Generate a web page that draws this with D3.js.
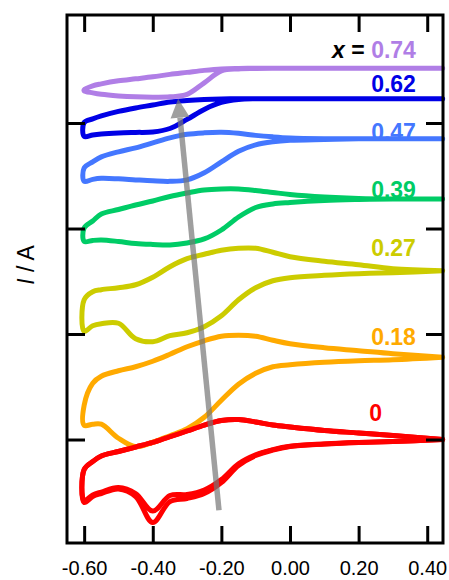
<!DOCTYPE html>
<meta charset="UTF-8">
<svg width="449" height="580"></svg>
<style>
body { margin: 0; }
svg { display: block; background: #fff; }
text { font-family: "Liberation Sans", Arial, sans-serif; }
.frame { fill: none; stroke: #000; stroke-width: 3px; }
.axis path { display: none; }
.axis line { stroke: #000; stroke-width: 3px; }
.axis text { font-size: 20px; fill: #000; }
.cv { fill: none; stroke-width: 5px; stroke-linejoin: round; stroke-linecap: round; }
.lbl { font-size: 23px; font-weight: bold; text-anchor: end; }
</style>
<script src="https://d3js.org/d3.v7.min.js"></script>
<script>
// potential grid (V) shared by every branch
var potential = [-0.60, -0.575, -0.55, -0.50, -0.45, -0.40, -0.35, -0.30, -0.25, -0.20, -0.15, -0.10, -0.05, 0.00, 0.10, 0.20, 0.30, 0.445];

var compositions = ["0", "0.18", "0.27", "0.39", "0.47", "0.62", "0.74"];
var colors = ["#ff0000", "#ffaa00", "#cccc00", "#00cc66", "#4477ff", "#0000e6", "#b07ee6"];
var offsets = [0, 7.8, 16.0, 22.8, 28.5, 32.3, 35.2];   // vertical shift, arb. units (10 per tick)

// currents (arb. units), relative to each curve's offset
var up00 = [-2.84, -2.09, -1.56, -1.14, -0.71, -0.28, 0.28, 0.81, 1.37, 1.80, 1.90, 1.66, 1.37, 1.18, 0.85, 0.62, 0.38, 0];
var lo00 = [-5.97, -5.40, -5.12, -4.69, -5.40, -7.87, -5.88, -5.59, -5.12, -4.08, -2.46, -1.52, -1.00, -0.66, -0.43, -0.28, -0.19, 0];
var lo00first = [-5.80, -5.25, -4.98, -4.55, -5.12, -6.78, -5.31, -5.21, -4.79, -3.80, -2.30, -1.45, -0.96, -0.64, -0.42, -0.28, -0.19, 0];
var up18 = [-4.55, -2.46, -1.80, -1.28, -0.90, -0.38, 0.28, 0.99, 1.56, 1.99, 2.09, 1.99, 1.61, 1.28, 0.90, 0.62, 0.33, 0];
var lo18 = [-6.45, -6.35, -6.35, -7.68, -8.48, -8.06, -7.44, -6.78, -5.69, -4.08, -2.56, -1.52, -0.90, -0.71, -0.47, -0.33, -0.24, 0];
var up27 = [-2.75, -1.99, -1.80, -1.61, -1.33, -0.62, 0.38, 1.14, 1.56, 1.94, 2.13, 2.13, 1.75, 1.33, 0.90, 0.57, 0.19, 0];
var lo27 = [-5.75, -5.21, -5.02, -4.98, -6.45, -6.73, -6.16, -5.88, -5.31, -4.27, -2.75, -1.61, -0.95, -0.66, -0.43, -0.28, -0.19, 0];
var up39 = [-2.75, -2.09, -1.42, -1.00, -0.57, -0.19, 0.24, 0.57, 0.85, 0.95, 0.95, 0.81, 0.62, 0.43, 0.19, 0.05, 0, 0];
var lo39 = [-4.03, -3.93, -3.89, -4.03, -4.22, -4.31, -4.36, -4.17, -3.79, -2.94, -1.71, -0.81, -0.47, -0.33, -0.14, -0.05, 0, 0];
var up47 = [-2.75, -2.18, -1.71, -1.23, -0.85, -0.38, 0.09, 0.43, 0.57, 0.62, 0.52, 0.33, 0.19, 0.09, 0.02, 0, 0, 0];
var lo47 = [-4.03, -3.84, -3.74, -3.79, -3.89, -3.98, -4.03, -3.89, -3.22, -2.18, -1.18, -0.57, -0.28, -0.14, -0.06, 0, 0, 0];
var up62 = [-2.25, -1.91, -1.63, -1.20, -0.87, -0.59, -0.30, -0.16, -0.07, -0.02, 0, 0, 0, 0, 0, 0, 0, 0];
var lo62 = [-3.57, -3.43, -3.34, -3.24, -3.19, -3.15, -2.82, -1.96, -1.01, -0.35, -0.07, 0, 0, 0, 0, 0, 0, 0];
var up74 = [-2.05, -1.68, -1.49, -1.20, -1.01, -0.82, -0.59, -0.40, -0.21, -0.07, -0.02, 0, 0, 0, 0, 0, 0, 0];
var lo74 = [-2.15, -2.34, -2.48, -2.63, -2.72, -2.75, -2.72, -2.48, -1.39, -0.26, -0.07, -0.03, 0, 0, 0, 0, 0, 0];

var xTicks = [-0.60, -0.40, -0.20, 0.00, 0.20, 0.40];
var yTicks = [0, 10, 20, 30];

// label anchor (E, I) for each composition
var labelE = [0.268, 0.367, 0.367, 0.367, 0.367, 0.367, 0.367];
var labelI = [1.75, 9.0, 17.35, 22.89, 28.39, 32.94, 36.16];
var arrowFrom = [-0.207, -6.7], arrowTo = [-0.326, 32.3];

var branches = [[up00, lo00], [up18, lo18], [up27, lo27], [up39, lo39], [up47, lo47], [up62, lo62], [up74, lo74]];

var svg = d3.select("svg");
var x = d3.scaleLinear().domain([-0.65, 0.446]).range([67, 443]);
var y = d3.scaleLinear().domain([-9.81, 40.24]).range([543, 15]);

var line = d3.line()
    .x(d => x(d[0]))
    .y(d => y(d[1]))
    .curve(d3.curveCatmullRom.alpha(0.5));

function loop(up, lo, off) {
    var pts = [];
    for (var i = lo.length - 1; i >= 0; i--) pts.push([potential[i], lo[i] + off]);
    for (var j = 0; j < up.length; j++) pts.push([potential[j], up[j] + off]);
    return pts;
}

var curves = svg.append("g");
branches.forEach((b, i) => {
    curves.append("path").attr("class", "cv")
        .attr("d", line(loop(b[0], b[1], offsets[i])))
        .style("stroke", colors[i]);
});
// first cycle of x = 0 sits a bit higher through the reduction peak
curves.append("path").attr("class", "cv")
    .attr("d", line(loop(up00, lo00first, offsets[0])))
    .style("stroke", colors[0]);

// grey arrow
var ax0 = x(arrowFrom[0]), ay0 = y(arrowFrom[1]), ax1 = x(arrowTo[0]), ay1 = y(arrowTo[1]);
var ang = Math.atan2(ay1 - ay0, ax1 - ax0), hl = 19, hw = 9.5;
var bx = ax1 - hl * Math.cos(ang), by = ay1 - hl * Math.sin(ang);
var arrow = svg.append("g").style("opacity", 0.7);
arrow.append("line")
    .attr("x1", ax0).attr("y1", ay0).attr("x2", bx).attr("y2", by)
    .style("stroke", "#777").style("stroke-width", 5.5);
arrow.append("path")
    .attr("d", "M" + ax1 + "," + ay1 +
        "L" + (bx + hw * Math.sin(ang)) + "," + (by - hw * Math.cos(ang)) +
        "L" + (bx - hw * Math.sin(ang)) + "," + (by + hw * Math.cos(ang)) + "Z")
    .style("fill", "#777");

// labels
compositions.forEach((c, i) => {
    var t = svg.append("text").attr("class", "lbl")
        .attr("x", x(labelE[i])).attr("y", y(labelI[i]));
    if (i == compositions.length - 1) {
        t.append("tspan").style("font-style", "italic").style("fill", "#000").text("x");
        t.append("tspan").style("fill", "#000").text(" = ");
    }
    t.append("tspan").style("fill", colors[i]).text(c);
});

// axes, ticks inward on every side
svg.append("g").attr("class", "axis").attr("transform", "translate(0,543)")
    .call(d3.axisBottom(x).tickValues(xTicks).tickSizeInner(-17).tickSizeOuter(0)
        .tickPadding(18).tickFormat(d => d.toFixed(2)));
svg.append("g").attr("class", "axis").attr("transform", "translate(0,15)")
    .call(d3.axisTop(x).tickValues(xTicks).tickSizeInner(-17).tickSizeOuter(0).tickFormat(""));
svg.append("g").attr("class", "axis").attr("transform", "translate(67,0)")
    .call(d3.axisLeft(y).tickValues(yTicks).tickSizeInner(-18).tickSizeOuter(0).tickFormat(""));
svg.append("g").attr("class", "axis").attr("transform", "translate(443,0)")
    .call(d3.axisRight(y).tickValues(yTicks).tickSizeInner(-17).tickSizeOuter(0).tickFormat(""));

svg.append("rect").attr("class", "frame")
    .attr("x", 67).attr("y", 15).attr("width", 376).attr("height", 528);

var yl = svg.append("text")
    .attr("transform", "translate(34,265) rotate(-90)")
    .style("text-anchor", "middle").style("font-size", "23px");
yl.append("tspan").style("font-style", "italic").text("I");
yl.append("tspan").text(" / A");
</script>
